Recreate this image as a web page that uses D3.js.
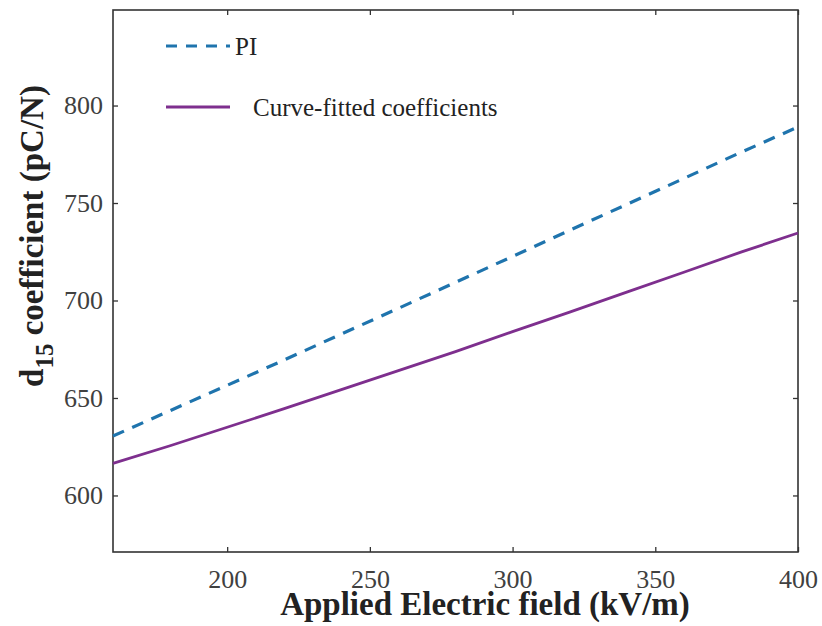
<!DOCTYPE html>
<html>
<head>
<meta charset="utf-8">
<script src="https://cdn.jsdelivr.net/npm/d3@7"></script>
<style>
body { margin: 0; background: #fff; }
text { font-family: "Liberation Serif", "Times New Roman", serif; }
</style>
</head>
<body>
<div id="chart"></div>
<script>
var svgWidth = 822;
var svgHeight = 626;

var margin = { top: 10, right: 24, bottom: 74, left: 113 };
var width = svgWidth - margin.left - margin.right;
var height = svgHeight - margin.top - margin.bottom;

// data
var fieldValues = [160, 180, 200, 220, 240, 260, 280, 300, 320, 340, 360, 380, 400];
var piValues = [630.5, 643.5, 656.5, 669.5, 682.8, 696, 709.3, 722.6, 736, 749.3, 762.6, 776, 789];
var fittedValues = [616.5, 625.5, 635, 644.5, 654.3, 664, 673.8, 684, 694, 704.3, 714.5, 724.8, 734.6];
var xTicks = [200, 250, 300, 350, 400];
var yTicks = [600, 650, 700, 750, 800];
var seriesNames = ["PI", "Curve-fitted coefficients"];

var svg = d3.select("#chart")
            .append("svg")
            .attr("width", svgWidth)
            .attr("height", svgHeight);

var chartGroup = svg.append("g")
                    .attr("transform", `translate(${margin.left}, ${margin.top})`);

var xScale = d3.scaleLinear().domain([160, 400]).range([0, width]);
var yScale = d3.scaleLinear().domain([571, 849]).range([height, 0]);

// axes with inward ticks (matlab style)
var bottomAxis = d3.axisBottom(xScale).tickValues(xTicks).tickSizeInner(-5).tickSizeOuter(0).tickPadding(18);
var topAxis = d3.axisTop(xScale).tickValues(xTicks).tickSizeInner(-5).tickSizeOuter(0).tickFormat("");
var leftAxis = d3.axisLeft(yScale).tickValues(yTicks).tickSizeInner(-5).tickSizeOuter(0).tickPadding(10);
var rightAxis = d3.axisRight(yScale).tickValues(yTicks).tickSizeInner(-5).tickSizeOuter(0).tickFormat("");

var xAxis = chartGroup.append("g").attr("transform", `translate(0, ${height})`).call(bottomAxis);
var xAxisTop = chartGroup.append("g").call(topAxis);
var yAxis = chartGroup.append("g").call(leftAxis);
var yAxisRight = chartGroup.append("g").attr("transform", `translate(${width}, 0)`).call(rightAxis);

chartGroup.selectAll(".domain").remove();
chartGroup.selectAll(".tick line").attr("stroke", "#333").attr("stroke-width", 1.3);
chartGroup.selectAll(".tick text")
          .attr("font-family", "Liberation Serif")
          .attr("font-size", "26px")
          .attr("fill", "#404040");
xAxis.selectAll(".tick text").attr("dy", "0.71em");

// box
chartGroup.append("rect")
          .attr("x", 0).attr("y", 0)
          .attr("width", width).attr("height", height)
          .attr("fill", "none")
          .attr("stroke", "#333")
          .attr("stroke-width", 1.6);

var line = d3.line()
             .x((d, i) => xScale(fieldValues[i]))
             .y(d => yScale(d));

chartGroup.append("path")
          .datum(fittedValues)
          .attr("d", line)
          .attr("fill", "none")
          .attr("stroke", "#7E2F8E")
          .attr("stroke-width", 2.8);

chartGroup.append("path")
          .datum(piValues)
          .attr("d", line)
          .attr("fill", "none")
          .attr("stroke", "#1f74ad")
          .attr("stroke-width", 3.2)
          .attr("stroke-dasharray", "12,9");

// legend
var legend = svg.append("g");
legend.append("line")
      .attr("x1", 166).attr("x2", 230).attr("y1", 46).attr("y2", 46)
      .attr("stroke", "#1f74ad").attr("stroke-width", 3.2)
      .attr("stroke-dasharray", "11,9");
legend.append("text")
      .attr("x", 235).attr("y", 55)
      .attr("font-size", "25px").attr("fill", "#222")
      .text(seriesNames[0]);
legend.append("line")
      .attr("x1", 166).attr("x2", 230).attr("y1", 107).attr("y2", 107)
      .attr("stroke", "#7E2F8E").attr("stroke-width", 2.8);
legend.append("text")
      .attr("x", 253).attr("y", 116)
      .attr("font-size", "25px").attr("fill", "#222")
      .text(seriesNames[1]);

// axis titles
svg.append("text")
   .attr("x", 485).attr("y", 615)
   .attr("text-anchor", "middle")
   .attr("font-size", "33px")
   .attr("font-weight", "bold")
   .attr("fill", "#222")
   .text("Applied Electric field (kV/m)");

var yLabel = svg.append("text")
   .attr("transform", "translate(43, 236) rotate(-90)")
   .attr("text-anchor", "middle")
   .attr("font-size", "33px")
   .attr("font-weight", "bold")
   .attr("fill", "#222");
yLabel.append("tspan").text("d");
yLabel.append("tspan").attr("font-size", "25px").attr("dy", 10).text("15");
yLabel.append("tspan").attr("dy", -10).text(" coefficient (pC/N)");
</script>
</body>
</html>
